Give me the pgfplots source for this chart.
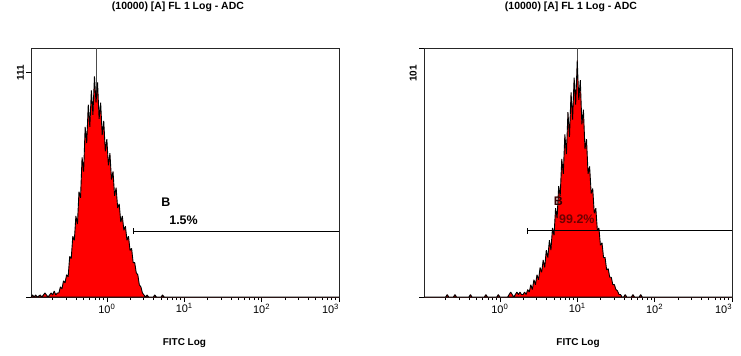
\documentclass[border=0pt]{standalone}
\usepackage{pgfplots}
\pgfplotsset{compat=1.18}
\usepackage{fontspec}
\setmainfont{Liberation Sans}

\pgfplotstableread{
x y
0.1047 0
0.1096 1
0.1148 0
0.1202 1
0.1259 0
0.1380 1
0.1445 0
0.1514 1
0.1585 2
0.1660 1
0.1738 0
0.1820 1
0.1905 2
0.1995 1
0.2089 3
0.2188 1
0.2291 2
0.2399 2
0.2512 5
0.2630 4
0.2754 8
0.2884 7
0.3020 11
0.3162 10
0.3311 20
0.3467 19
0.3631 30
0.3802 28
0.3981 40
0.4169 36
0.4365 52
0.4571 49
0.4786 69
0.5012 62
0.5248 84
0.5495 76
0.5754 95
0.6026 84
0.6310 102
0.6607 90
0.6918 109
0.7244 96
0.7586 106
0.7943 88
0.8318 96
0.8710 80
0.9120 87
0.9550 72
1.000 78
1.047 65
1.096 71
1.148 58
1.202 62
1.259 50
1.318 54
1.380 44
1.445 46
1.514 37
1.585 40
1.660 33
1.738 35
1.820 28
1.905 30
1.995 23
2.089 24
2.188 17
2.291 17
2.399 12
2.512 11
2.630 6
2.754 5
2.884 2
3.020 1
3.162 0
3.311 1
3.467 0
3.981 0
4.169 1
4.365 0
5.012 0
5.248 1
5.495 0
1000 0
}\leftdata

\pgfplotstableread{
x y
0.1047 0
0.1995 0
0.2089 1
0.2188 0
0.2512 0
0.2630 1
0.2754 0
0.3981 0
0.4169 1
0.4365 0
0.6310 0
0.6607 1
0.6918 0
0.9120 0
0.9550 1
1.000 0
1.259 0
1.318 1
1.380 2
1.445 1
1.514 0
1.585 1
1.660 2
1.738 1
1.820 2
1.905 1
1.995 1
2.089 2
2.188 1
2.291 3
2.399 2
2.512 5
2.630 3
2.754 7
2.884 5
3.020 9
3.162 7
3.311 12
3.467 10
3.631 15
3.802 12
3.981 19
4.169 16
4.365 23
4.571 19
4.786 28
5.012 25
5.248 36
5.495 32
5.754 45
6.026 41
6.310 56
6.607 50
6.918 66
7.244 58
7.586 75
7.943 65
8.318 83
8.710 72
9.120 89
9.550 78
10.00 96
10.47 80
10.96 88
11.48 70
12.02 76
12.59 60
13.18 64
13.80 50
14.45 53
15.14 42
15.85 44
16.60 34
17.38 36
18.20 27
19.05 28
19.95 21
20.89 22
21.88 16
22.91 16
23.99 11
25.12 11.5
26.30 8
27.54 8
28.84 5
30.20 5
31.62 3
33.11 2.5
34.67 1
36.31 1
38.02 0
39.81 0
41.69 1
43.65 0
50.12 0
52.48 1
54.95 0
63.10 0
66.07 1
69.18 0
1000 0
}\rightdata

\definecolor{pctred}{RGB}{110,0,0}

\begin{document}
\begin{tikzpicture}[x=1bp,y=1bp]
\path[use as bounding box] (0,0) rectangle (741,355);

\begin{axis}[
    at={(31bp,58bp)}, anchor=south west,
    scale only axis, width=308bp, height=249bp,
    xmode=log, xmin=0.1047, xmax=1000, ymin=0, ymax=123,
    axis line style={black!85, line width=0.6pt},
    tick align=outside, xtick pos=left, ytick pos=left,
    xtick={1,10,100,1000},
    xticklabels={10\textsuperscript{0},10\textsuperscript{1},10\textsuperscript{2},\makebox[0pt][r]{10\textsuperscript{3}}},
    minor xtick={0.2,0.3,0.4,0.5,0.6,0.7,0.8,0.9,2,3,4,5,6,7,8,9,20,30,40,50,60,70,80,90,200,300,400,500,600,700,800,900},
    major tick length=5bp, minor tick length=3bp,
    tick style={black, line width=0.6pt},
    xticklabel style={font=\fontsize{11}{13}\selectfont, inner sep=1.5bp},
    ytick={0,111}, yticklabels={,111},
    yticklabel style={font=\bfseries\fontsize{10}{12}\selectfont, rotate=90, anchor=south, inner sep=2bp},
    title={(10000) [A] FL 1 Log - ADC},
    title style={font=\bfseries\fontsize{10.5}{12}\selectfont, at={(axis description cs:0.477,1.165)}, anchor=center, yshift=-6pt},
    xlabel={FITC Log},
    xlabel style={font=\bfseries\fontsize{10}{12}\selectfont, at={(axis description cs:0.498,-0.185)}, anchor=center},
  ]
  \addplot[gray!60!black, line width=0.7pt] coordinates {(0.731,0) (0.731,123)};
  \addplot[fill=red, draw=black, line width=0.9pt, line join=bevel] table[x=x,y=y] {\leftdata} \closedcycle;
  \addplot[black, line width=0.6pt] coordinates {(2.22,32.7) (1000,32.7)};
  \addplot[black, line width=0.6pt] coordinates {(2.22,31.2) (2.22,34.2)};
  \node[font=\bfseries\fontsize{12.5}{14}\selectfont] at (axis cs:5.81,46.9) {B};
  \node[font=\bfseries\fontsize{12.5}{14}\selectfont] at (axis cs:9.8,38) {1.5\%};
\end{axis}

\begin{axis}[
    at={(424bp,58bp)}, anchor=south west,
    scale only axis, width=308bp, height=249bp,
    xmode=log, xmin=0.1047, xmax=1000, ymin=0, ymax=101,
    axis line style={black!85, line width=0.6pt},
    tick align=outside, xtick pos=left, ytick pos=left,
    xtick={1,10,100,1000},
    xticklabels={10\textsuperscript{0},10\textsuperscript{1},10\textsuperscript{2},\makebox[0pt][r]{10\textsuperscript{3}}},
    minor xtick={0.2,0.3,0.4,0.5,0.6,0.7,0.8,0.9,2,3,4,5,6,7,8,9,20,30,40,50,60,70,80,90,200,300,400,500,600,700,800,900},
    major tick length=5bp, minor tick length=3bp,
    tick style={black, line width=0.6pt},
    xticklabel style={font=\fontsize{11}{13}\selectfont, inner sep=1.5bp},
    ytick={0,101}, yticklabels={,101},
    yticklabel style={font=\bfseries\fontsize{10}{12}\selectfont, rotate=90, anchor=south east, inner sep=2bp, xshift=-15bp},
    title={(10000) [A] FL 1 Log - ADC},
    title style={font=\bfseries\fontsize{10.5}{12}\selectfont, at={(axis description cs:0.477,1.165)}, anchor=center, yshift=-6pt},
    xlabel={FITC Log},
    xlabel style={font=\bfseries\fontsize{10}{12}\selectfont, at={(axis description cs:0.5,-0.185)}, anchor=center},
  ]
  \addplot[gray!60!black, line width=0.7pt] coordinates {(10,0) (10,101)};
  \addplot[fill=red, draw=black, line width=0.9pt, line join=bevel] table[x=x,y=y] {\rightdata} \closedcycle;
  \addplot[black, line width=0.6pt] coordinates {(2.234,26.9) (1000,26.9)};
  \addplot[black, line width=0.6pt] coordinates {(2.234,25.7) (2.234,28.1)};
  \node[font=\bfseries\fontsize{12.5}{14}\selectfont, text=black!80!red] at (axis cs:5.71,38.7) {B};
  \node[font=\bfseries\fontsize{12.5}{14}\selectfont, text=pctred] at (axis cs:9.9,31.4) {99.2\%};
\end{axis}
\end{tikzpicture}
\end{document}
